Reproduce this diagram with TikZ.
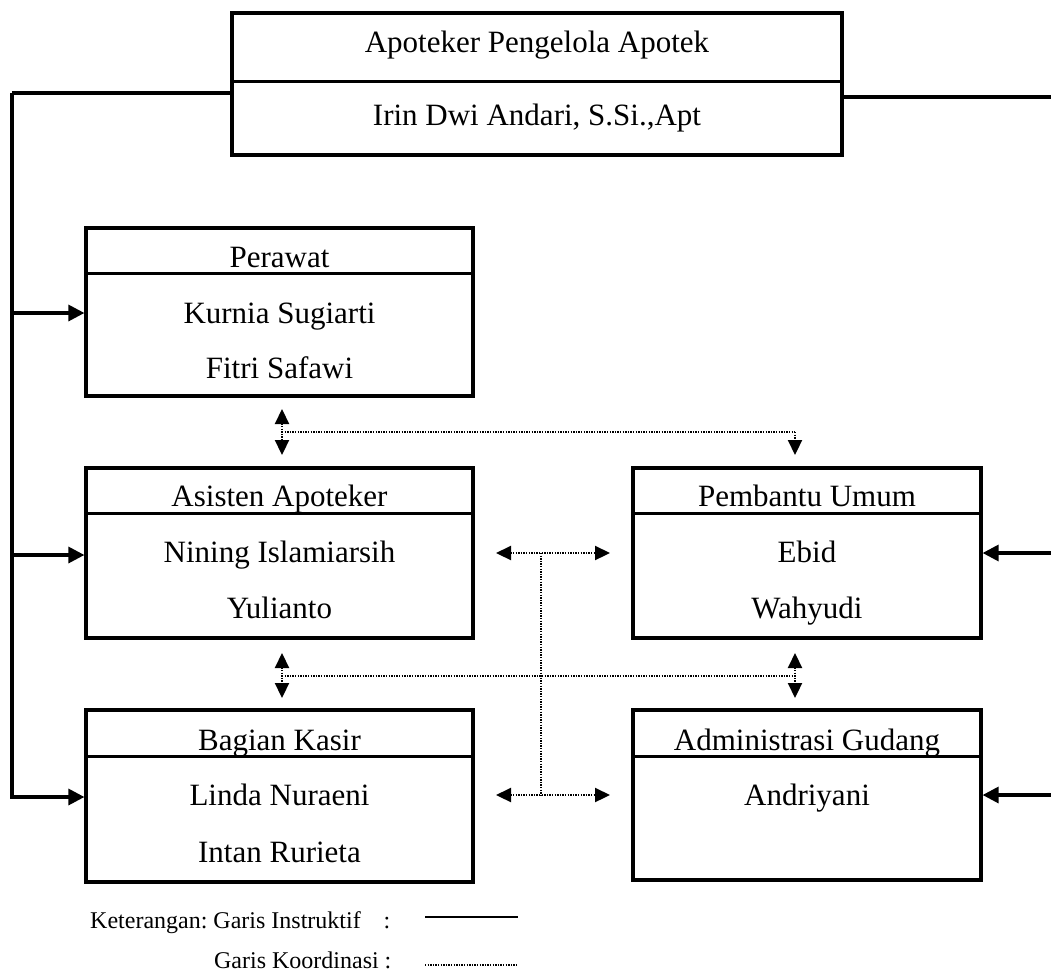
\documentclass[tikz,border=0pt]{standalone}
\usepackage{fontspec}
\setmainfont{Liberation Serif}
\usetikzlibrary{arrows.meta}
\frenchspacing
\begin{document}
\begin{tikzpicture}[x=1pt,y=-1pt,
  box/.style={draw, line width=3.2pt, rectangle, inner sep=0pt},
  div/.style={line width=3.4pt},
  lbl/.style={anchor=base, inner sep=0pt, font=\fontsize{31}{36}\selectfont},
  leg/.style={inner sep=0pt, font=\fontsize{24}{28}\selectfont},
  instr/.style={line width=3.2pt},
  instrarrow/.style={line width=3.2pt, -{Triangle[length=16pt,width=16pt]}},
  co/.style={line width=2.2pt, dash pattern=on 1.3pt off 1.3pt},
  coone/.style={co, -{Triangle[length=15pt,width=14pt]}},
  cotwo/.style={co, {Triangle[length=15pt,width=14pt]}-{Triangle[length=15pt,width=14pt]}}
]
\useasboundingbox (0,0) rectangle (1051,972);

% boxes
\node[box, minimum width=610pt, minimum height=142pt] (ap) at (537,84) {};
\node[box, minimum width=387pt, minimum height=168pt] (perawat) at (279.5,312) {};
\node[box, minimum width=387pt, minimum height=170pt] (asisten) at (279.5,553) {};
\node[box, minimum width=387pt, minimum height=172pt] (kasir) at (279.5,796) {};
\node[box, minimum width=348pt, minimum height=170pt] (pembantu) at (807,553) {};
\node[box, minimum width=348pt, minimum height=170pt] (admin) at (807,795) {};

% header dividers
\draw[div] ([yshift=-70pt]ap.north west) -- ([yshift=-70pt]ap.north east);
\draw[div] ([yshift=-47pt]perawat.north west) -- ([yshift=-47pt]perawat.north east);
\draw[div] ([yshift=-47pt]asisten.north west) -- ([yshift=-47pt]asisten.north east);
\draw[div] ([yshift=-48pt]kasir.north west) -- ([yshift=-48pt]kasir.north east);
\draw[div] ([yshift=-47pt]pembantu.north west) -- ([yshift=-47pt]pembantu.north east);
\draw[div] ([yshift=-48pt]admin.north west) -- ([yshift=-48pt]admin.north east);

% texts
\node[lbl] (t1) at (537,52) {Apoteker Pengelola Apotek};
\node[lbl] (t2) at (537,125) {Irin Dwi Andari, S.Si.,Apt};
\node[lbl] (p1) at (279.5,267) {Perawat};
\node[lbl] (p2) at (279.5,323) {Kurnia Sugiarti};
\node[lbl] (p3) at (279.5,378) {Fitri Safawi};
\node[lbl] (a1) at (279.5,506) {Asisten Apoteker};
\node[lbl] (a2) at (279.5,562) {Nining Islamiarsih};
\node[lbl] (a3) at (279.5,618) {Yulianto};
\node[lbl] (k1) at (279.5,750) {Bagian Kasir};
\node[lbl] (k2) at (279.5,805) {Linda Nuraeni};
\node[lbl] (k3) at (279.5,862) {Intan Rurieta};
\node[lbl] (u1) at (807,506) {Pembantu Umum};
\node[lbl] (u2) at (807,562) {Ebid};
\node[lbl] (u3) at (807,618) {Wahyudi};
\node[lbl] (g1) at (807,750) {Administrasi Gudang};
\node[lbl] (g2) at (807,805) {Andriyani};

% instruction lines (left)
\coordinate (L0) at (12,93);
\coordinate (L1) at (12,313);
\coordinate (L2) at (12,555);
\coordinate (L3) at (12,797);
\draw[instr] (ap.west |- L0) -- (L0);
\draw[instrarrow] (L0) |- (kasir.west |- L3);
\draw[instrarrow] (L1) -- (perawat.west |- L1);
\draw[instrarrow] (L2) -- (asisten.west |- L2);

% instruction lines (right)
\coordinate (R0) at (1051,97);
\coordinate (R1) at (1051,553);
\coordinate (R2) at (1051,795);
\draw[instr] (ap.east |- R0) -- (R0);
\draw[instrarrow] (R1) -- (pembantu.east |- R1);
\draw[instrarrow] (R2) -- (admin.east |- R2);

% coordination lines
\coordinate (c1u) at (282,409);
\coordinate (c1d) at (282,455);
\coordinate (c1m) at (282,432);
\coordinate (c1r) at (795,432);
\coordinate (c1rd) at (795,455);
\draw[cotwo] (c1u) -- (c1d);
\draw[co] (c1m) -- (c1r);
\draw[coone] (c1r) -- (c1rd);

\coordinate (c2u) at (282,653);
\coordinate (c2d) at (282,698);
\coordinate (c2m) at (282,676);
\coordinate (c2ru) at (795,653);
\coordinate (c2rd) at (795,698);
\coordinate (c2rm) at (795,676);
\draw[cotwo] (c2u) -- (c2d);
\draw[cotwo] (c2ru) -- (c2rd);
\draw[co] (c2m) -- (c2rm);

\coordinate (h1l) at (496,553);
\coordinate (h1r) at (610,553);
\coordinate (h1m) at (541,553);
\coordinate (h2l) at (496,795);
\coordinate (h2r) at (610,795);
\coordinate (h2m) at (541,795);
\draw[cotwo] (h1l) -- (h1r);
\draw[cotwo] (h2l) -- (h2r);
\draw[co] (h1m) -- (h2m);

% legend
\node[leg, anchor=base west] (lg1) at (90,928) {Keterangan: Garis Instruktif};
\node[leg, anchor=base] (lc1) at (387,928) {:};
\node[leg, anchor=base east] (lg2) at (379,968) {Garis Koordinasi};
\node[leg, anchor=base] (lc2) at (388,968) {:};
\coordinate (ls1) at (425,917);
\coordinate (ls2) at (518,917);
\coordinate (ld1) at (425,965);
\coordinate (ld2) at (517,965);
\draw[line width=2.4pt] (ls1) -- (ls2);
\draw[co] (ld1) -- (ld2);
\end{tikzpicture}
\end{document}
